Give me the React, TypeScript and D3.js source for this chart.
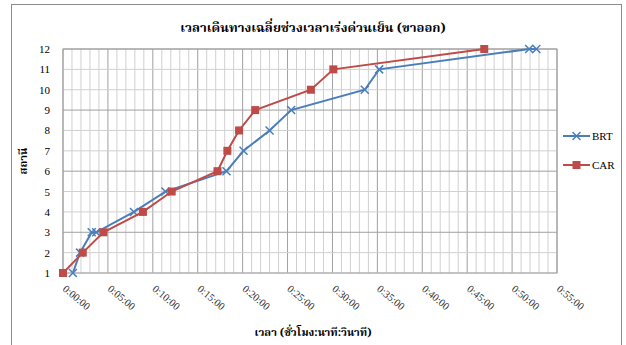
import React from "react";
import * as d3 from "d3";

const stations = [1, 2, 3, 3, 4, 5, 6, 7, 8, 9, 10, 11, 12, 12];
const brtMinutes = [1.1, 1.9, 3.2, 3.7, 7.9, 11.4, 18.2, 20.1, 23.0, 25.4, 33.6, 35.2, 51.9, 52.7];
const carStations = [1, 2, 3, 4, 5, 6, 7, 8, 9, 10, 11, 12];
const carMinutes = [0, 2.2, 4.5, 8.9, 12.1, 17.2, 18.3, 19.6, 21.4, 27.6, 30.1, 46.9];
const xTicks = [0, 5, 10, 15, 20, 25, 30, 35, 40, 45, 50, 55];
const yTicks = [1, 2, 3, 4, 5, 6, 7, 8, 9, 10, 11, 12];

const W = 626, H = 345;
const L = 63, R = 557, T = 49, B = 273;
const BLUE = "#4A7EBB";
const RED = "#BE4B48";
const thai = "'Noto Serif Thai', 'Noto Sans Thai', Tahoma, 'Liberation Serif', serif";
const serif = "'Liberation Serif', 'Times New Roman', serif";

export default function App() {
  const x = d3.scaleLinear().domain([0, 55]).range([L, R]);
  const y = d3.scaleLinear().domain([1, 12]).range([B, T]);
  const line = d3.line<[number, number]>().x((d) => x(d[0])).y((d) => y(d[1]));
  const brt: [number, number][] = brtMinutes.map((m, i) => [m, stations[i]]);
  const car: [number, number][] = carMinutes.map((m, i) => [m, carStations[i]]);
  const minor = d3.range(0, 56, 1);
  const fmt = (m: number) => `0:${String(m).padStart(2, "0")}:00`;

  const xMark = (cx: number, cy: number, k: string) => (
    <g key={k} stroke={BLUE} strokeWidth={1.5}>
      <line x1={cx - 4} y1={cy - 4} x2={cx + 4} y2={cy + 4} />
      <line x1={cx - 4} y1={cy + 4} x2={cx + 4} y2={cy - 4} />
    </g>
  );

  return (
    <svg width={W} height={H} style={{ position: "absolute", left: 0, top: 0 }}>
      <rect x={0} y={0} width={W} height={H} fill="#fff" />
      <rect x={11.5} y={4.5} width={610} height={345} fill="#fff" stroke="#8c8c8c" strokeWidth={1} />
      <text x={313} y={32} textAnchor="middle" fontFamily={thai} fontWeight="bold" fontSize={13}>
        เวลาเดินทางเฉลี่ยช่วงเวลาเร่งด่วนเย็น (ขาออก)
      </text>
      {minor.map((m) => (
        <line key={"vm" + m} x1={x(m)} x2={x(m)} y1={T} y2={B}
          stroke={m % 5 === 0 ? "#a0a0a0" : "#d0d0d0"} strokeWidth={1} />
      ))}
      {yTicks.map((v) => (
        <line key={"h" + v} x1={L} x2={R} y1={y(v)} y2={y(v)}
          stroke={v % 3 === 0 ? "#a0a0a0" : "#d0d0d0"} strokeWidth={1} />
      ))}
      <rect x={L} y={T} width={R - L} height={B - T} fill="none" stroke="#a0a0a0" />
      {yTicks.map((v) => (
        <text key={"yl" + v} x={50} y={y(v) + 4} textAnchor="end" fontFamily={serif} fontSize={11}>
          {v}
        </text>
      ))}
      {xTicks.map((m) => (
        <text key={"xl" + m} transform={`translate(${x(m) - 1},${B + 17}) rotate(40)`}
          fontFamily={serif} fontSize={10.5} fill="#333">
          {fmt(m)}
        </text>
      ))}
      <text transform={`translate(27,${(T + B) / 2}) rotate(-90)`} textAnchor="middle"
        fontFamily={thai} fontWeight="bold" fontSize={11}>
        สถานี
      </text>
      <text x={313} y={336} textAnchor="middle" fontFamily={thai} fontWeight="bold" fontSize={11}>
        เวลา (ชั่วโมง:นาที:วินาที)
      </text>
      <path d={line(brt) || ""} fill="none" stroke={BLUE} strokeWidth={2} />
      {brt.map((d, i) => xMark(x(d[0]), y(d[1]), "b" + i))}
      <path d={line(car) || ""} fill="none" stroke={RED} strokeWidth={2} />
      {car.map((d, i) => (
        <rect key={"c" + i} x={x(d[0]) - 4} y={y(d[1]) - 4} width={8} height={8} fill={RED} />
      ))}
      <line x1={563} x2={590} y1={136} y2={136} stroke={BLUE} strokeWidth={2} />
      {xMark(576.5, 136, "lb")}
      <text x={592} y={140} fontFamily={serif} fontSize={11}>BRT</text>
      <line x1={563} x2={590} y1={165} y2={165} stroke={RED} strokeWidth={2} />
      <rect x={572.5} y={161} width={8} height={8} fill={RED} />
      <text x={592} y={169} fontFamily={serif} fontSize={11}>CAR</text>
    </svg>
  );
}
